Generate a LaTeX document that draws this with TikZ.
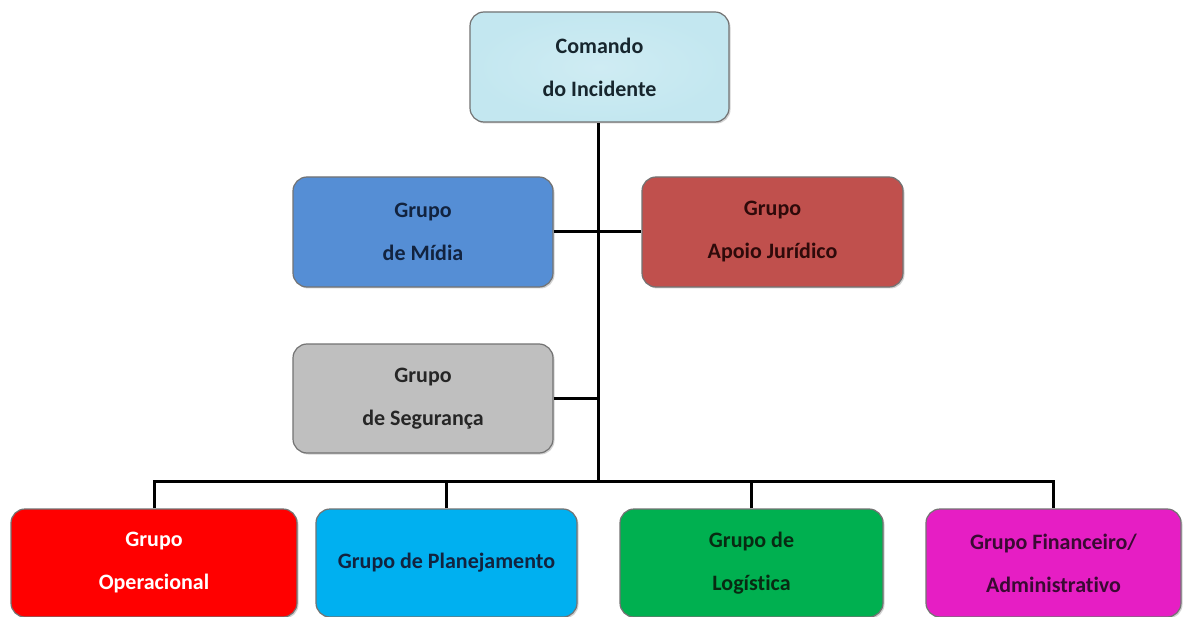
\documentclass[tikz,border=0pt]{standalone}
\usepackage{fontspec}
\setmainfont{Carlito}[Ligatures=NoCommon]
\usetikzlibrary{shadows}
\definecolor{cmdfill}{HTML}{C3E7F0}
\definecolor{midfill}{HTML}{558ED5}
\definecolor{jurfill}{HTML}{C0504D}
\definecolor{segfill}{HTML}{BFBFBF}
\definecolor{opfill}{HTML}{FF0000}
\definecolor{plfill}{HTML}{00B0F0}
\definecolor{lgfill}{HTML}{00B050}
\definecolor{finfill}{HTML}{E61EC4}
\definecolor{navytext}{HTML}{12233F}
\definecolor{redtext}{HTML}{2E0A0A}
\definecolor{greytext}{HTML}{262626}
\definecolor{greentext}{HTML}{082A12}
\definecolor{purptext}{HTML}{3A0A33}
\definecolor{cmdtext}{HTML}{17262E}
\tikzset{
  orgbox/.style={draw=black!55, line width=1.2pt, rounded corners=14pt,
    align=center, inner sep=0pt, minimum width=260pt, minimum height=110pt,
    font={\fontsize{22}{43}\selectfont\bfseries},
    drop shadow={shadow xshift=1.5pt, shadow yshift=-1.5pt, opacity=0.35}},
  link/.style={line width=3pt, black}
}
\begin{document}
\begin{tikzpicture}[x=1pt,y=-1pt]
\useasboundingbox[fill=white] (0,0) rectangle (1185,617);
% boxes
\node[orgbox, fill=cmdfill, text=cmdtext, minimum width=259pt, inner color=cmdfill!80!white, outer color=cmdfill] (cmd) at (599.5,67) {Comando\\do Incidente};
\node[orgbox, fill=midfill, text=navytext] (mid) at (423,232) {Grupo\\de Mídia};
\node[orgbox, fill=jurfill, text=redtext, minimum width=261pt] (jur) at (772.5,232) {Grupo\\Apoio Jurídico};
\node[orgbox, fill=segfill, text=greytext, minimum height=109pt] (seg) at (423,398.5) {Grupo\\de Segurança};
\node[orgbox, fill=opfill, text=white, minimum width=286pt, minimum height=108pt] (op) at (154,563) {Grupo\\Operacional};
\node[orgbox, fill=plfill, text=navytext, minimum width=261pt, minimum height=108pt] (pl) at (446.5,563) {Grupo de Planejamento};
\node[orgbox, fill=lgfill, text=greentext, minimum width=263pt, minimum height=108pt] (lg) at (751.5,563) {Grupo de\\Logística};
\node[orgbox, fill=finfill, text=purptext, minimum width=255pt, minimum height=108pt] (fin) at (1053.5,563) {Grupo Financeiro/\\Administrativo};
% connectors
\coordinate (bus) at (598,481);
\draw[link] (cmd.south -| bus) -- (bus);
\draw[link] (mid.east) -- (jur.west);
\draw[link] (seg.east) -- (seg.east -| bus);
\draw[link] (op.north) |- (bus) -| (fin.north);
\draw[link] (pl.north) -- (pl.north |- bus);
\draw[link] (lg.north) -- (lg.north |- bus);
\end{tikzpicture}
\end{document}
